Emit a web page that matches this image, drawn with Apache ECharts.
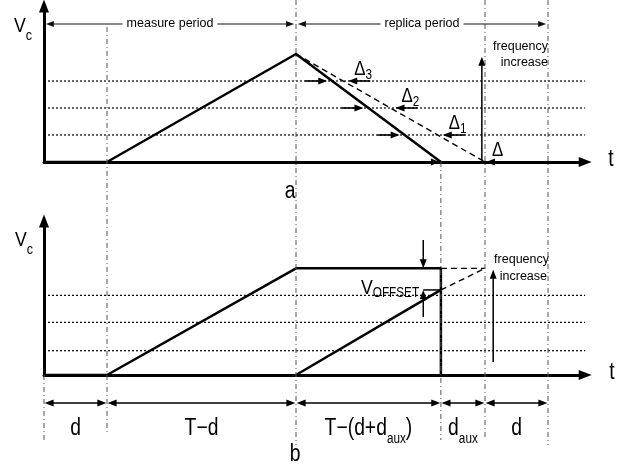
<!DOCTYPE html>
<html><head><meta charset="utf-8">
<script src="https://cdn.jsdelivr.net/npm/echarts@6.0.0/dist/echarts.min.js"></script>
<style>html,body{margin:0;padding:0;background:#fff}#c{width:625px;height:472px}</style>
</head><body><div id="c"></div>
<script>
// ---------------- data (time in units of d, voltage in arbitrary units) ----------------
const guideTimes   = [0, 1, 4, 6.3, 7, 8];
const topMeasureT  = [0, 1, 4, 6.3];
const topMeasureV  = [0, 0, 4, 0];
const topReplicaT  = [4, 7];
const topReplicaV  = [4, 0];
const topLevels    = [1, 2, 3];
const deltaLevels  = [3, 2, 1, 0];
const deltaSubs    = ['3', '2', '1', ''];
const botMeasureT  = [0, 1, 4, 6.3, 6.3];
const botMeasureV  = [0, 0, 3.95, 3.95, 0];
const botReplicaT  = [4, 6.3];
const botReplicaV  = [0, 3.15];
const botExtT      = [6.3, 7];
const botExtV      = [3.15, 3.95];
const botHoldT     = [6.3, 7];
const botHoldV     = [3.95, 3.95];
const botLevels    = [0.9, 1.95, 2.95];
const spanStarts   = [0, 1, 4, 6.3, 7];
const spanEnds     = [1, 4, 6.3, 7, 8];
const spanLabels   = ['d', 'T−d', 'T−(d+d_aux)', 'd_aux', 'd'];
const periodStarts = [0, 4];
const periodEnds   = [4, 8];
const periodLabels = ['measure period', 'replica period'];

// ---------------- layout ----------------
const FN = '"Liberation Sans","DejaVu Sans",sans-serif';
const FR = '"Liberation Sans","DejaVu Sans",sans-serif';
const NARROW = 0.84;
const PXU = 63, VU = 27, XMAX = 8.59, GW = XMAX * PXU;
const TOPG = {top: 6, height: 156}, BOTG = {top: 221, height: 154};
const guideY = [[375, 440], [27, 432], [0, 445], [162, 440], [0, 440], [0, 445]];
const dimRowY = 403, dimLabelY = 429, periodRowY = 24;

function crossing(ts, vs, v) {
  for (let i = 0; i < ts.length - 1; i++) {
    if (vs[i] > vs[i + 1] && v <= vs[i] && v >= vs[i + 1]) {
      return ts[i] + (ts[i + 1] - ts[i]) * (vs[i] - v) / (vs[i] - vs[i + 1]);
    }
  }
  return null;
}
function toRich(s) { return '{m|' + s.replace(/_([a-z0-9]+)/g, '}{s|$1}{m|') + '}'; }
function richSub(mainSize, mainLH, subSize) {
  return {m: {fontSize: mainSize, fontFamily: FN, lineHeight: mainLH, fill: '#000'},
          s: {fontSize: subSize, fontFamily: FN, lineHeight: subSize, verticalAlign: 'bottom', fill: '#000'}};
}

function line(gi, ts, vs, ls, z) {
  return {type: 'line', xAxisIndex: gi, yAxisIndex: gi, data: ts.map((t, i) => [t, vs[i]]),
    symbol: 'none', silent: true, clip: false, animation: false, z: z || 3,
    lineStyle: Object.assign({color: '#000', width: 2.5}, ls)};
}
const DOT = {width: 1.2, type: [2, 2], color: '#000'};
const DASH = {width: 1.4, type: [6, 4], color: '#000'};

function arrows(gi, rows, lw, HL, HW, color) {
  return {type: 'custom', coordinateSystem: 'cartesian2d', xAxisIndex: gi, yAxisIndex: gi,
    data: rows, silent: true, animation: false, z: 4, clip: false,
    renderItem: (params, api) => {
      const p1 = api.coord([api.value(0), api.value(1)]);
      const p2 = api.coord([api.value(2), api.value(3)]);
      const hs = api.value(4), he = api.value(5);
      const dx = p2[0] - p1[0], dy = p2[1] - p1[1], len = Math.hypot(dx, dy) || 1;
      const ux = dx / len, uy = dy / len, nx = -uy, ny = ux;
      const a = hs ? [p1[0] + ux * HL * 0.7, p1[1] + uy * HL * 0.7] : p1;
      const b = he ? [p2[0] - ux * HL * 0.7, p2[1] - uy * HL * 0.7] : p2;
      const ch = [{type: 'line', shape: {x1: a[0], y1: a[1], x2: b[0], y2: b[1]},
        style: {stroke: color || '#000', lineWidth: lw}}];
      const head = (tip, sx, sy) => ({type: 'polygon', shape: {points: [tip,
        [tip[0] - sx * HL + nx * HW, tip[1] - sy * HL + ny * HW],
        [tip[0] - sx * HL - nx * HW, tip[1] - sy * HL - ny * HW]]}, style: {fill: color || '#000'}});
      if (hs) ch.push(head(p1, -ux, -uy));
      if (he) ch.push(head(p2, ux, uy));
      return {type: 'group', children: ch};
    }};
}
function texts(gi, rows, styleFn, z) {
  return {type: 'custom', coordinateSystem: 'cartesian2d', xAxisIndex: gi, yAxisIndex: gi,
    data: rows, silent: true, animation: false, z: z || 6, clip: false,
    renderItem: (params, api) => {
      const p = api.coord([api.value(0), api.value(1)]);
      const st = styleFn(params.dataIndex);
      return {type: 'text', x: p[0] + (st.dx || 0), y: p[1] + (st.dy || 0), scaleX: st.sx || 1, style: st.style};
    }};
}

// ---------------- build series ----------------
const series = [];
// top panel
topLevels.forEach(v => series.push(line(0, [0, XMAX], [v, v], DOT, 1)));
series.push(line(0, topMeasureT, topMeasureV, {}));
series.push(line(0, topReplicaT, topReplicaV, DASH));
const rightRows = deltaLevels.map(v => {
  const xs = crossing(topMeasureT, topMeasureV, v);
  const gap = v === 0 ? 1 : 5;
  const tip = xs - gap / PXU;
  return [tip - 22 / PXU, v, tip, v, 0, 1];
});
const leftTips = deltaLevels.map(v => {
  const xd = crossing(topReplicaT, topReplicaV, v);
  return xd + (v === 0 ? 1 : 5) / PXU;
});
const leftRows = deltaLevels.map((v, i) => [leftTips[i] + 22 / PXU, v, leftTips[i], v, 0, 1]);
series.push(arrows(0, rightRows.concat(leftRows), 1.6, 9, 3.5));
series.push(arrows(0, [[topReplicaT[1] - 0.05, 0.07, topReplicaT[1] - 0.05, 3.9, 0, 1]], 1.5, 9, 3.5));
series.push(texts(0, deltaLevels.map((v, i) => [leftTips[i], v]), i => ({
  dx: 6, dy: -12, sx: NARROW,
  style: {text: '{m|Δ}{s|' + deltaSubs[i] + '}', align: 'left', verticalAlign: 'middle', rich: richSub(20, 26, 14)}
})));

// bottom panel
botLevels.forEach(v => series.push(line(1, [0, XMAX], [v, v], DOT, 1)));
series.push(line(1, botMeasureT, botMeasureV, {}));
series.push(line(1, botReplicaT, botReplicaV, {}));
series.push(line(1, botExtT, botExtV, DASH));
series.push(line(1, botHoldT, botHoldV, DASH));
const offX = botReplicaT[1] - 0.28;
series.push(arrows(1, [
  [offX, 5.0, offX, botMeasureV[2], 0, 1],
  [offX, 2.15, offX, botReplicaV[1], 0, 1],
  [offX, botReplicaV[1], botReplicaT[1], botReplicaV[1], 0, 0],
  [botExtT[1] + 0.13, 0.48, botExtT[1] + 0.13, 3.9, 0, 1]
], 1.5, 9, 3.5));

// overlay: guides, dimension arrows, period arrows, labels
guideTimes.forEach((t, i) => series.push(line(2, [t, t], guideY[i], {width: 1, color: '#555', type: [5, 3, 1, 3]}, 0)));
series.push(arrows(2, spanStarts.map((s, i) => [s + 0.01, dimRowY, spanEnds[i] - 0.01, dimRowY, 1, 1]), 1.5, 9, 3.6));
series.push(arrows(2, periodStarts.map((s, i) => [s + 0.03, periodRowY, periodEnds[i] - 0.03, periodRowY, 1, 1]), 1.1, 8, 3, '#111'));
series.push(texts(2, spanStarts.map((s, i) => [(s + spanEnds[i]) / 2, dimLabelY]), i => ({
  sx: NARROW,
  style: {text: toRich(spanLabels[i]), align: 'center', verticalAlign: 'middle', rich: richSub(23, 34, 14)}
})));
series.push(texts(2, periodStarts.map((s, i) => [(s + periodEnds[i]) / 2, periodRowY]), i => ({
  style: {text: periodLabels[i], align: 'center', verticalAlign: 'middle', fontSize: 12.5,
    fontFamily: FR, fill: '#000', backgroundColor: '#fff', padding: [1, 4]}
}), 7));

// ---------------- axes ----------------
const axBase = {type: 'value', axisTick: {show: false}, axisLabel: {show: false}, splitLine: {show: false}};
const axLine = {show: true, onZero: false, symbol: ['none', 'triangle'], symbolSize: [10, 13],
  lineStyle: {color: '#000', width: 3}};
const option = {
  backgroundColor: '#fff',
  animation: false,
  grid: [
    {left: 44, top: TOPG.top, width: GW, height: TOPG.height},
    {left: 44, top: BOTG.top, width: GW, height: BOTG.height},
    {left: 44, top: 0, width: GW, height: 472}
  ],
  xAxis: [
    Object.assign({}, axBase, {gridIndex: 0, min: 0, max: XMAX, axisLine: axLine}),
    Object.assign({}, axBase, {gridIndex: 1, min: 0, max: XMAX, axisLine: axLine}),
    Object.assign({}, axBase, {gridIndex: 2, min: 0, max: XMAX, show: false})
  ],
  yAxis: [
    Object.assign({}, axBase, {gridIndex: 0, min: 0, max: TOPG.height / VU, axisLine: axLine}),
    Object.assign({}, axBase, {gridIndex: 1, min: 0, max: BOTG.height / VU, axisLine: axLine}),
    Object.assign({}, axBase, {gridIndex: 2, min: 0, max: 472, inverse: true, show: false})
  ],
  series: series,
  graphic: (() => {
    const g = [];
    const vc = (x, y) => ({type: 'text', x: x, y: y, scaleX: NARROW, silent: true,
      style: {text: '{m|V}{s|c}', align: 'left', verticalAlign: 'middle', rich: richSub(21, 34, 15)}});
    g.push(vc(14, 26), vc(15, 240));
    const t = (x, y, s, size, font, align, sx) => ({type: 'text', x: x, y: y, scaleX: sx || 1, silent: true,
      style: {text: s, fontSize: size, fontFamily: font, fill: '#000', align: align || 'center', verticalAlign: 'middle'}});
    g.push(t(611, 160, 't', 23, FN, 'center', NARROW), t(612, 373, 't', 23, FN, 'center', NARROW));
    g.push(t(290, 192, 'a', 23, FN, 'center', NARROW), t(295, 455, 'b', 23, FN, 'center', NARROW));
    g.push(t(548, 47, 'frequency', 12.5, FR, 'right'), t(548, 63, 'increase', 12.5, FR, 'right'));
    g.push(t(549, 260, 'frequency', 12.5, FR, 'right'), t(547, 277, 'increase', 12.5, FR, 'right'));
    g.push({type: 'text', x: 361, y: 288, scaleX: NARROW, silent: true,
      style: {text: '{m|V}{s|OFFSET}', align: 'left', verticalAlign: 'middle', rich: richSub(21, 24, 14)}});
    return g;
  })()
};
const chart = echarts.init(document.getElementById('c'), null, {renderer: 'canvas'});
chart.setOption(option);
</script></body></html>
